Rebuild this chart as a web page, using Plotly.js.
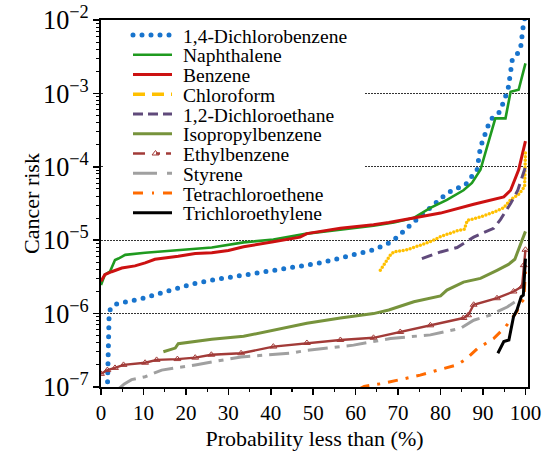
<!DOCTYPE html>
<html><head><meta charset="utf-8">
<script src="https://cdn.plot.ly/plotly-3.0.1.min.js"></script>
<style>html,body{margin:0;padding:0;background:#fff}#chart{width:542px;height:452px}</style>
</head><body><div id="chart"></div>
<script>
// ---- data (x = probability less than, %, y = cancer risk) ----
const seriesNames = ['1,4-Dichlorobenzene','Naphthalene','Benzene','Chloroform','1,2-Dichloroethane',
  'Isopropylbenzene','Ethylbenzene','Styrene','Tetrachloroethene','Trichloroethylene'];

const dcbX = [1.5,1.6,1.9,2.2,3.7,6,10,14,18,22,26.5,31,35,39,45.4,51.7,58,64.2,67.8,70,72,76,79,81.5,84,85.8,87.5,88.6,89.4,90.5,91.7,93.7,95,96,96.9,98.8,99.2,99.6,100];
const dcbY = [8.9e-8,3.2e-7,8.9e-7,1.17e-6,1.35e-6,1.45e-6,1.62e-6,1.9e-6,2.19e-6,2.57e-6,2.88e-6,3.16e-6,3.47e-6,3.72e-6,4.17e-6,4.9e-6,6.03e-6,7.41e-6,9.12e-6,1.12e-5,1.45e-5,2.34e-5,3.31e-5,4.37e-5,5.13e-5,5.62e-5,7.59e-5,9.12e-5,1.86e-4,2.82e-4,4.37e-4,5.37e-4,7.94e-4,1.23e-3,2.88e-3,3.89e-3,6.92e-3,9.55e-3,1.12e-2];

const naphX = [0,0.9,2.1,3.3,4.1,5.7,10.4,18.2,26.1,33.6,40.6,48.5,56.4,64.2,69,73.6,77.6,81.5,85.4,87.4,89.4,91,92.9,95.3,96.5,98.4,100];
const naphY = [2.45e-6,3.39e-6,3.72e-6,5.37e-6,5.62e-6,6.31e-6,6.76e-6,7.24e-6,7.94e-6,9.33e-6,1.02e-5,1.23e-5,1.38e-5,1.58e-5,1.74e-5,2.0e-5,2.75e-5,3.55e-5,4.79e-5,6.03e-5,9.12e-5,1.86e-4,4.57e-4,4.57e-4,1.05e-3,1.12e-3,2.57e-3];

const benzX = [0,0.9,2.5,4.9,8,10.4,12.7,18.2,22.2,26.1,30,33.6,40.6,46.9,48.5,56.4,64.2,67.8,73.6,80,87.8,94.9,96.5,98.4,100];
const benzY = [2.75e-6,3.39e-6,3.72e-6,4.17e-6,4.47e-6,4.9e-6,5.5e-6,6.03e-6,6.61e-6,6.76e-6,7.24e-6,8.13e-6,9.55e-6,1.1e-5,1.23e-5,1.45e-5,1.62e-5,1.74e-5,2.0e-5,2.34e-5,3.09e-5,3.89e-5,4.79e-5,9.12e-5,2.24e-4];

const chlX = [65.8,67.4,68.2,69,72.1,77.6,80,84,85.6,86.3,89,92.5,94.8,96.5,98.5,99.8,100];
const chlY = [3.89e-6,5.37e-6,6.31e-6,6.92e-6,7.41e-6,9.55e-6,1.12e-5,1.35e-5,1.41e-5,1.86e-5,2.04e-5,2.4e-5,2.75e-5,3.55e-5,4.27e-5,5.37e-5,1.62e-4];

const dceX = [75.6,80,83.9,86.2,87.8,90,92.5,94.1,95.7,96.5,98.2,100];
const dceY = [5.62e-6,6.92e-6,7.94e-6,9.55e-6,1.1e-5,1.26e-5,1.45e-5,1.91e-5,2.63e-5,3.16e-5,4.79e-5,1.0e-4];

const isoX = [14.7,17.5,18.2,22.2,26.1,33.6,40.6,48.5,56.4,64.2,67.8,73.7,80,81.5,85.4,89.4,93.3,96,97.5,99.6,100];
const isoY = [3.02e-7,3.39e-7,3.89e-7,4.17e-7,4.47e-7,4.9e-7,5.89e-7,7.41e-7,8.71e-7,1.0e-6,1.12e-6,1.45e-6,1.74e-6,2.09e-6,2.69e-6,3.02e-6,3.89e-6,4.68e-6,5.5e-6,1.12e-5,1.32e-5];

const ethX = [0,1.5,3.3,5.3,10.4,13.1,18,22.2,26,33,40.6,48.5,56.4,64.2,70.5,77.6,85.4,86.5,87.8,93.3,97.2,99.2,99.6,100];
const ethY = [1.51e-7,1.7e-7,1.82e-7,2.0e-7,2.14e-7,2.34e-7,2.4e-7,2.51e-7,2.75e-7,2.88e-7,3.55e-7,3.98e-7,4.37e-7,4.68e-7,5.62e-7,6.92e-7,8.71e-7,9.5e-7,1.32e-6,1.62e-6,2.0e-6,2.34e-6,4.57e-6,7.41e-6];

const styX = [4.2,5.5,7.2,10.4,14.3,22.2,33,44.6,48.5,59.5,68.2,77.6,84.7,87.8,91.7,95.7,98.8];
const styY = [9.5e-8,1.1e-7,1.26e-7,1.38e-7,1.7e-7,2.0e-7,2.57e-7,2.88e-7,3.16e-7,3.72e-7,4.57e-7,5.13e-7,6.31e-7,8.13e-7,9.55e-7,1.23e-6,1.62e-6];

const tetX = [61,62,66.5,72.1,75.2,80,83.9,86.2,88.6,92.5,95.3,96.5,98,98.8,99.6,100];
const tetY = [9.5e-8,1.02e-7,1.12e-7,1.32e-7,1.45e-7,1.74e-7,2.0e-7,2.45e-7,3.31e-7,4.57e-7,6.61e-7,8.13e-7,1.07e-6,1.38e-6,1.55e-6,3.72e-6];

const triX = [93.5,94.9,96.1,97.2,98,99,99.5,100];
const triY = [2.88e-7,4.17e-7,4.37e-7,9.12e-7,1.12e-6,1.7e-6,1.78e-6,5.62e-6];

const xTickVals = [0,10,20,30,40,50,60,70,80,90,100];

// ---- styles ----
const colors = ['#1874cd','#1f9a1f','#cc1111','#ffc000','#604a7b','#77933c','#a23b38','#a0a0a0','#ff6a00','#000000'];
const widths = [5,2.6,3,3.5,3,3,2.4,3,3,3];
const dashes = ['0px,9px','solid','solid','0px,3.6px','11px,6px','solid','solid','20px,7px,5px,7px','10px,8px,3px,8px','solid'];
const legendDashes = ['0px,9px','','','12px,7px','10px,5px','','12px,11px,4px,6px,5px,30px','24px,10px,5px,30px','10px,9px,2px,9px,10px,30px',''];
const roundCaps = [true,false,false,true,false,false,false,false,false,false];

const xs = [dcbX,naphX,benzX,chlX,dceX,isoX,ethX,styX,tetX,triX];
const ys = [dcbY,naphY,benzY,chlY,dceY,isoY,ethY,styY,tetY,triY];

const traces = seriesNames.map((name,i) => {
  const t = {type:'scatter', mode:'lines', name:name, x:xs[i], y:ys[i],
    line:{color:colors[i], width:widths[i], dash:dashes[i]}, hoverinfo:'skip'};
  if (name === 'Ethylbenzene') {
    t.mode = 'lines+markers';
    t.marker = {symbol:'triangle-up-open', size:6, color:colors[i], line:{width:1, color:colors[i]}};
  }
  return t;
});

const FONT = 'Liberation Serif, Times New Roman, serif';

const layout = {
  width:542, height:452,
  margin:{l:101, r:14, t:20, b:65},
  paper_bgcolor:'#fff', plot_bgcolor:'#fff',
  font:{family:FONT, size:21, color:'#000'},
  showlegend:true,
  legend:{x:0.0635, y:1, xanchor:'left', yanchor:'top', bgcolor:'#fff', borderwidth:0,
    font:{family:FONT, size:19.5, color:'#000'}, itemwidth:45, tracegroupgap:0},
  xaxis:{range:[0,100.6], tickvals:xTickVals, ticks:'outside', ticklen:6, tickwidth:1.5, tickcolor:'#000',
    minor:{ticks:'outside', ticklen:3, dtick:5, tick0:0, tickcolor:'#000', tickwidth:1.2},
    showline:true, linewidth:2, linecolor:'#000', mirror:true, showgrid:false, zeroline:false,
    tickfont:{family:FONT, size:21, color:'#000'},
    title:{text:'Probability less than (%)', font:{family:FONT, size:22, color:'#000'}, standoff:6}},
  yaxis:{type:'log', range:[-7,-2], dtick:1, exponentformat:'power', showexponent:'all',
    ticks:'outside', ticklen:6, tickwidth:1.5, tickcolor:'#000',
    minor:{ticks:'outside', ticklen:3, dtick:'D1', tickcolor:'#000', tickwidth:1},
    showline:true, linewidth:2, linecolor:'#000', mirror:true,
    showgrid:true, gridcolor:'#333', griddash:'1.5px,1.5px', gridwidth:1.2, zeroline:false,
    tickfont:{family:FONT, size:21, color:'#000'},
    title:{text:'Cancer risk', font:{family:FONT, size:22, color:'#000'}, standoff:3}}
};

Plotly.newPlot('chart', traces, layout, {staticPlot:true}).then(gd => {
  const tr = gd.querySelectorAll('.scatterlayer .trace');
  tr.forEach((g,i) => {
    if (roundCaps[i]) g.querySelectorAll('path.js-line').forEach(p => p.style.strokeLinecap = 'round');
  });
  // nudge y-axis title toward the tick labels, as in the reference
  const yt = gd.querySelector('.g-ytitle');
  if (yt) yt.setAttribute('transform', 'translate(6,0)');
  const STEP = 19.75, FIRST_Y = 35, LINE_X0 = 133;
  const leg = gd.querySelector('g.legend');
  if (!leg) return;
  const items = leg.querySelectorAll('g.traces');
  items.forEach((g,i) => {
    g.setAttribute('transform', `translate(0,${i*STEP})`);
    const p = g.querySelector('.legendlines path');
    if (p) {
      p.setAttribute('d','M5,0h39');
      p.style.strokeDasharray = legendDashes[i];
      p.style.strokeLinecap = i === 0 ? 'round' : 'butt';
    }
  });
  const p0 = items[0].querySelector('.legendlines path').getBoundingClientRect();
  const dx = LINE_X0 - p0.left, dy = FIRST_Y - p0.top;
  items.forEach((g,i) => g.setAttribute('transform', `translate(${dx},${dy + i*STEP})`));
  const bg = leg.querySelector('rect.bg');
  const m = /translate\(([-\d.]+)[ ,]+([-\d.]+)\)/.exec(leg.getAttribute('transform'));
  const lx = +m[1], ly = +m[2];
  bg.setAttribute('x', 102.5 - lx); bg.setAttribute('y', 21.5 - ly);
  bg.setAttribute('width', 365 - 102.5); bg.setAttribute('height', 224 - 21.5);
});
</script>
</body></html>
